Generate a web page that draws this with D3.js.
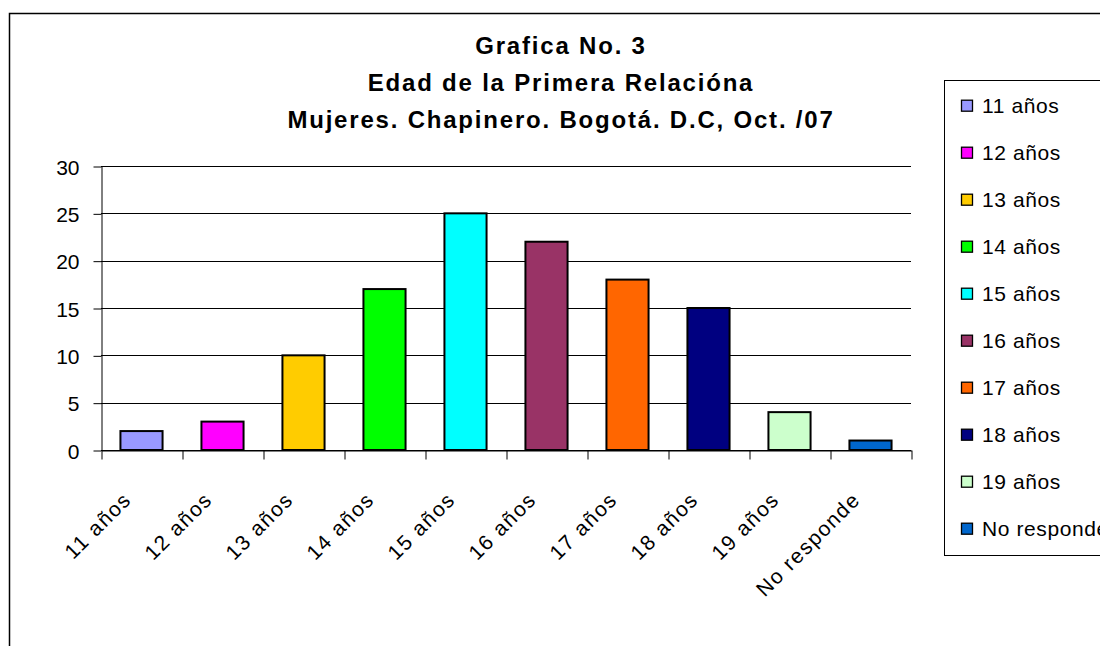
<!DOCTYPE html>
<html>
<head>
<meta charset="utf-8">
<script src="https://cdn.jsdelivr.net/npm/d3@7"></script>
<style>
  body { margin: 0; background: #fff; }
  svg { display: block; font-family: "Liberation Sans", Arial, sans-serif; }
</style>
</head>
<body>
<svg width="1100" height="646"></svg>
<script>
// chart data
var categories = ["11 años", "12 años", "13 años", "14 años", "15 años",
                  "16 años", "17 años", "18 años", "19 años", "No responde"];
var values = [2, 3, 10, 17, 25, 22, 18, 15, 4, 1];
var colors = ["#9999FF", "#FF00FF", "#FFCC00", "#00FF00", "#00FFFF",
              "#993366", "#FF6600", "#000080", "#CCFFCC", "#0066CC"];
var yTicks = [0, 5, 10, 15, 20, 25, 30];
var titleLines = ["Grafica No. 3", "Edad de la Primera Relacióna",
                  "Mujeres. Chapinero. Bogotá. D.C, Oct. /07"];

var svg = d3.select("svg");

// outer chart border (runs off the right / bottom edge)
svg.append("path")
    .attr("d", "M9.5,700 L9.5,13.5 L1200,13.5")
    .attr("fill", "none")
    .attr("stroke", "#000")
    .attr("stroke-width", 1.5);

var plot = {left: 101, right: 911, top: 166, bottom: 450};

var x = d3.scaleBand()
    .domain(categories)
    .range([plot.left, plot.right])
    .paddingInner(0.48)
    .paddingOuter(0.24);

var y = d3.scaleLinear()
    .domain([0, 30])
    .range([plot.bottom, plot.top]);

// gridlines
svg.append("g")
    .selectAll("line")
    .data(yTicks)
    .join("line")
    .attr("x1", plot.left)
    .attr("x2", plot.right)
    .attr("y1", d => Math.round(y(d)) + 0.5)
    .attr("y2", d => Math.round(y(d)) + 0.5)
    .attr("stroke", "#000")
    .attr("stroke-width", 1);

// y axis
var yAxis = svg.append("g")
    .attr("transform", "translate(" + (plot.left + 0.5) + ",0.5)")
    .call(d3.axisLeft(y).tickValues(yTicks).tickSize(8).tickPadding(14).tickSizeOuter(0));
yAxis.select(".domain").attr("stroke", "#000");
yAxis.selectAll(".tick line").attr("stroke", "#000");
yAxis.selectAll("text")
    .attr("font-size", 21)
    .attr("fill", "#000")
    .attr("font-family", "Liberation Sans, Arial, sans-serif")
    .attr("dy", "0.36em");

// bottom axis: ticks at category boundaries
var xb = d3.scaleLinear().domain([0, categories.length]).range([plot.left, plot.right]);
var xAxis = svg.append("g")
    .attr("transform", "translate(0.5," + (plot.bottom + 0.5) + ")")
    .call(d3.axisBottom(xb).tickValues(d3.range(categories.length + 1))
        .tickSize(9).tickFormat("").tickSizeOuter(0));
xAxis.select(".domain").attr("stroke", "#000");
xAxis.selectAll(".tick line").attr("stroke", "#000");

// bars
svg.append("g")
    .selectAll("rect")
    .data(values)
    .join("rect")
    .attr("x", (d, i) => x(categories[i]))
    .attr("y", d => y(d))
    .attr("width", x.bandwidth())
    .attr("height", d => y(0) - y(d))
    .attr("fill", (d, i) => colors[i])
    .attr("stroke", "#000")
    .attr("stroke-width", 2);

// rotated category labels
svg.append("g")
    .selectAll("text")
    .data(categories)
    .join("text")
    .attr("transform", d => "translate(" + (x(d) + x.bandwidth() / 2 - 9) + "," + (plot.bottom + 51) + ") rotate(-45)")
    .attr("text-anchor", "end")
    .attr("font-size", 21)
    .attr("letter-spacing", 1.5)
    .text(d => d);

// title
svg.append("g")
    .selectAll("text")
    .data(titleLines)
    .join("text")
    .attr("x", 561)
    .attr("y", (d, i) => 54 + i * 37)
    .attr("text-anchor", "middle")
    .attr("font-size", 24)
    .attr("font-weight", "bold")
    .attr("letter-spacing", 1.8)
    .text(d => d);

// legend
var legend = svg.append("g");
legend.append("rect")
    .attr("x", 944.5)
    .attr("y", 80.5)
    .attr("width", 300)
    .attr("height", 475)
    .attr("fill", "#fff")
    .attr("stroke", "#000")
    .attr("stroke-width", 1);

var items = legend.selectAll("g.item")
    .data(categories)
    .join("g")
    .attr("class", "item")
    .attr("transform", (d, i) => "translate(961," + (105.7 + i * 47) + ")");
items.append("rect")
    .attr("x", 0.5)
    .attr("y", -5.5)
    .attr("width", 11)
    .attr("height", 11)
    .attr("fill", (d, i) => colors[i])
    .attr("stroke", "#000")
    .attr("stroke-width", 1.3);
items.append("text")
    .attr("x", 21)
    .attr("y", 7.5)
    .attr("font-size", 21)
    .attr("letter-spacing", 0.6)
    .text(d => d);
</script>
</body>
</html>
